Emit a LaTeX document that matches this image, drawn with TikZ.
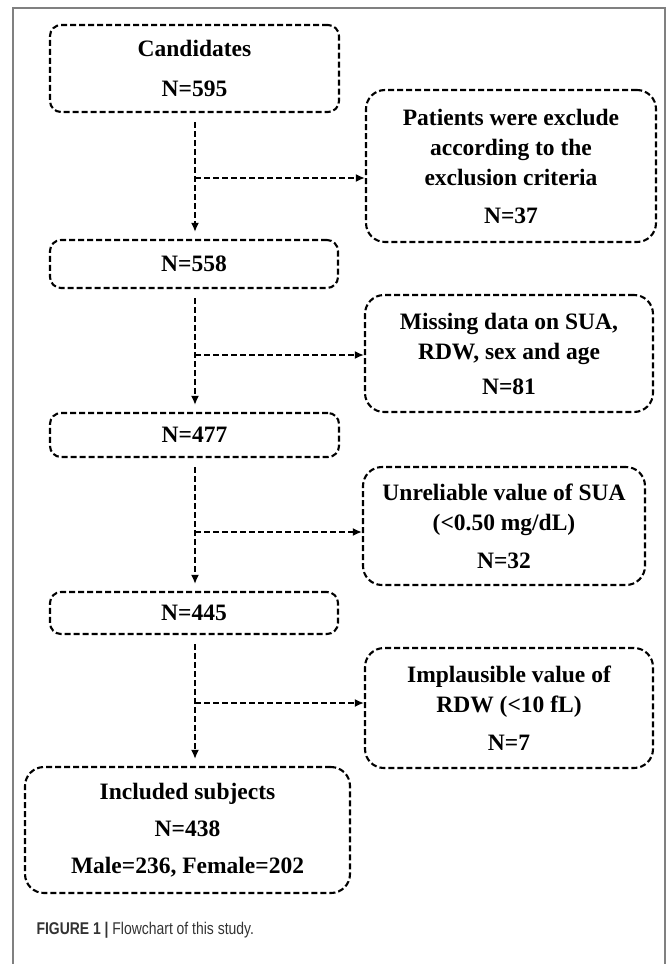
\documentclass[tikz,border=0pt]{standalone}
\usepackage{fontspec}
\setmainfont{Liberation Serif}
\newfontfamily\capfont[FakeStretch=0.82]{Liberation Sans}
\usetikzlibrary{arrows.meta,positioning}
\tikzset{
  box/.style={draw,line width=2.1pt,dash pattern=on 6pt off 3pt,rounded corners=11pt,
    align=center,inner sep=0pt,font=\fontsize{23.5}{30}\selectfont\bfseries},
  bigbox/.style={box,rounded corners=19pt},
  flow/.style={line width=2.1pt,dash pattern=on 6pt off 3pt,-{Latex[length=9pt,width=8pt]}},
}
\definecolor{framegray}{RGB}{128,128,128}

\begin{document}
\begin{tikzpicture}[x=1pt,y=-1pt]
\useasboundingbox (0,0) rectangle (669,964);
\draw[framegray,line width=1.2pt] (13,970) -- (13,8) -- (665,8) -- (665,970);

% main column
\node[box,minimum width=289pt,minimum height=87pt] (cand) at (194.5,68.5) {Candidates\\[10pt]N=595};
\node[box,minimum width=288pt,minimum height=48pt] (n558) at (194,264) {N=558};
\node[box,minimum width=289pt,minimum height=44pt] (n477) at (194.5,435) {N=477};
\node[box,minimum width=288pt,minimum height=42pt] (n445) at (194,613) {N=445};
\node[bigbox,minimum width=325pt,minimum height=126pt] (incl) at (187.5,830)
  {Included subjects\\[7pt]N=438\\[7pt]Male=236, Female=202};

% exclusions
\node[bigbox,minimum width=290pt,minimum height=152pt] (ex1) at (511,166)
  {Patients were exclude\\according to the\\exclusion criteria\\[8pt]N=37};
\node[bigbox,minimum width=288pt,minimum height=117pt] (ex2) at (509,353.5)
  {Missing data on SUA,\\RDW, sex and age\\[5pt]N=81};
\node[bigbox,minimum width=282pt,minimum height=118pt] (ex3) at (504,526)
  {Unreliable value of SUA\\(<0.50 mg/dL)\\[8pt]N=32};
\node[bigbox,minimum width=288pt,minimum height=120pt] (ex4) at (509,708)
  {Implausible value of\\RDW (<10 fL)\\[8pt]N=7};

\coordinate (b1) at (195,178);
\coordinate (b2) at (195,355);
\coordinate (b3) at (195,532);
\coordinate (b4) at (195,703);

\draw[flow,shorten <=9pt,shorten >=7pt] (cand.south -| b1) -- (n558.north -| b1);
\draw[flow,shorten <=9pt,shorten >=7pt] (n558.south -| b2) -- (n477.north -| b2);
\draw[flow,shorten <=9pt,shorten >=7pt] (n477.south -| b3) -- (n445.north -| b3);
\draw[flow,shorten <=9pt,shorten >=7pt] (n445.south -| b4) -- (incl.north -| b4);
\draw[flow] (b1) -- (b1 -| ex1.west);
\draw[flow] (b2) -- (b2 -| ex2.west);
\draw[flow] (b3) -- (b3 -| ex3.west);
\draw[flow] (b4) -- (b4 -| ex4.west);

\node[anchor=west,font=\capfont\fontsize{17}{20}\selectfont,text=black!80] (cap) at (33,930)
  {\textbf{FIGURE 1 |} Flowchart of this study.};
\end{tikzpicture}
\end{document}
